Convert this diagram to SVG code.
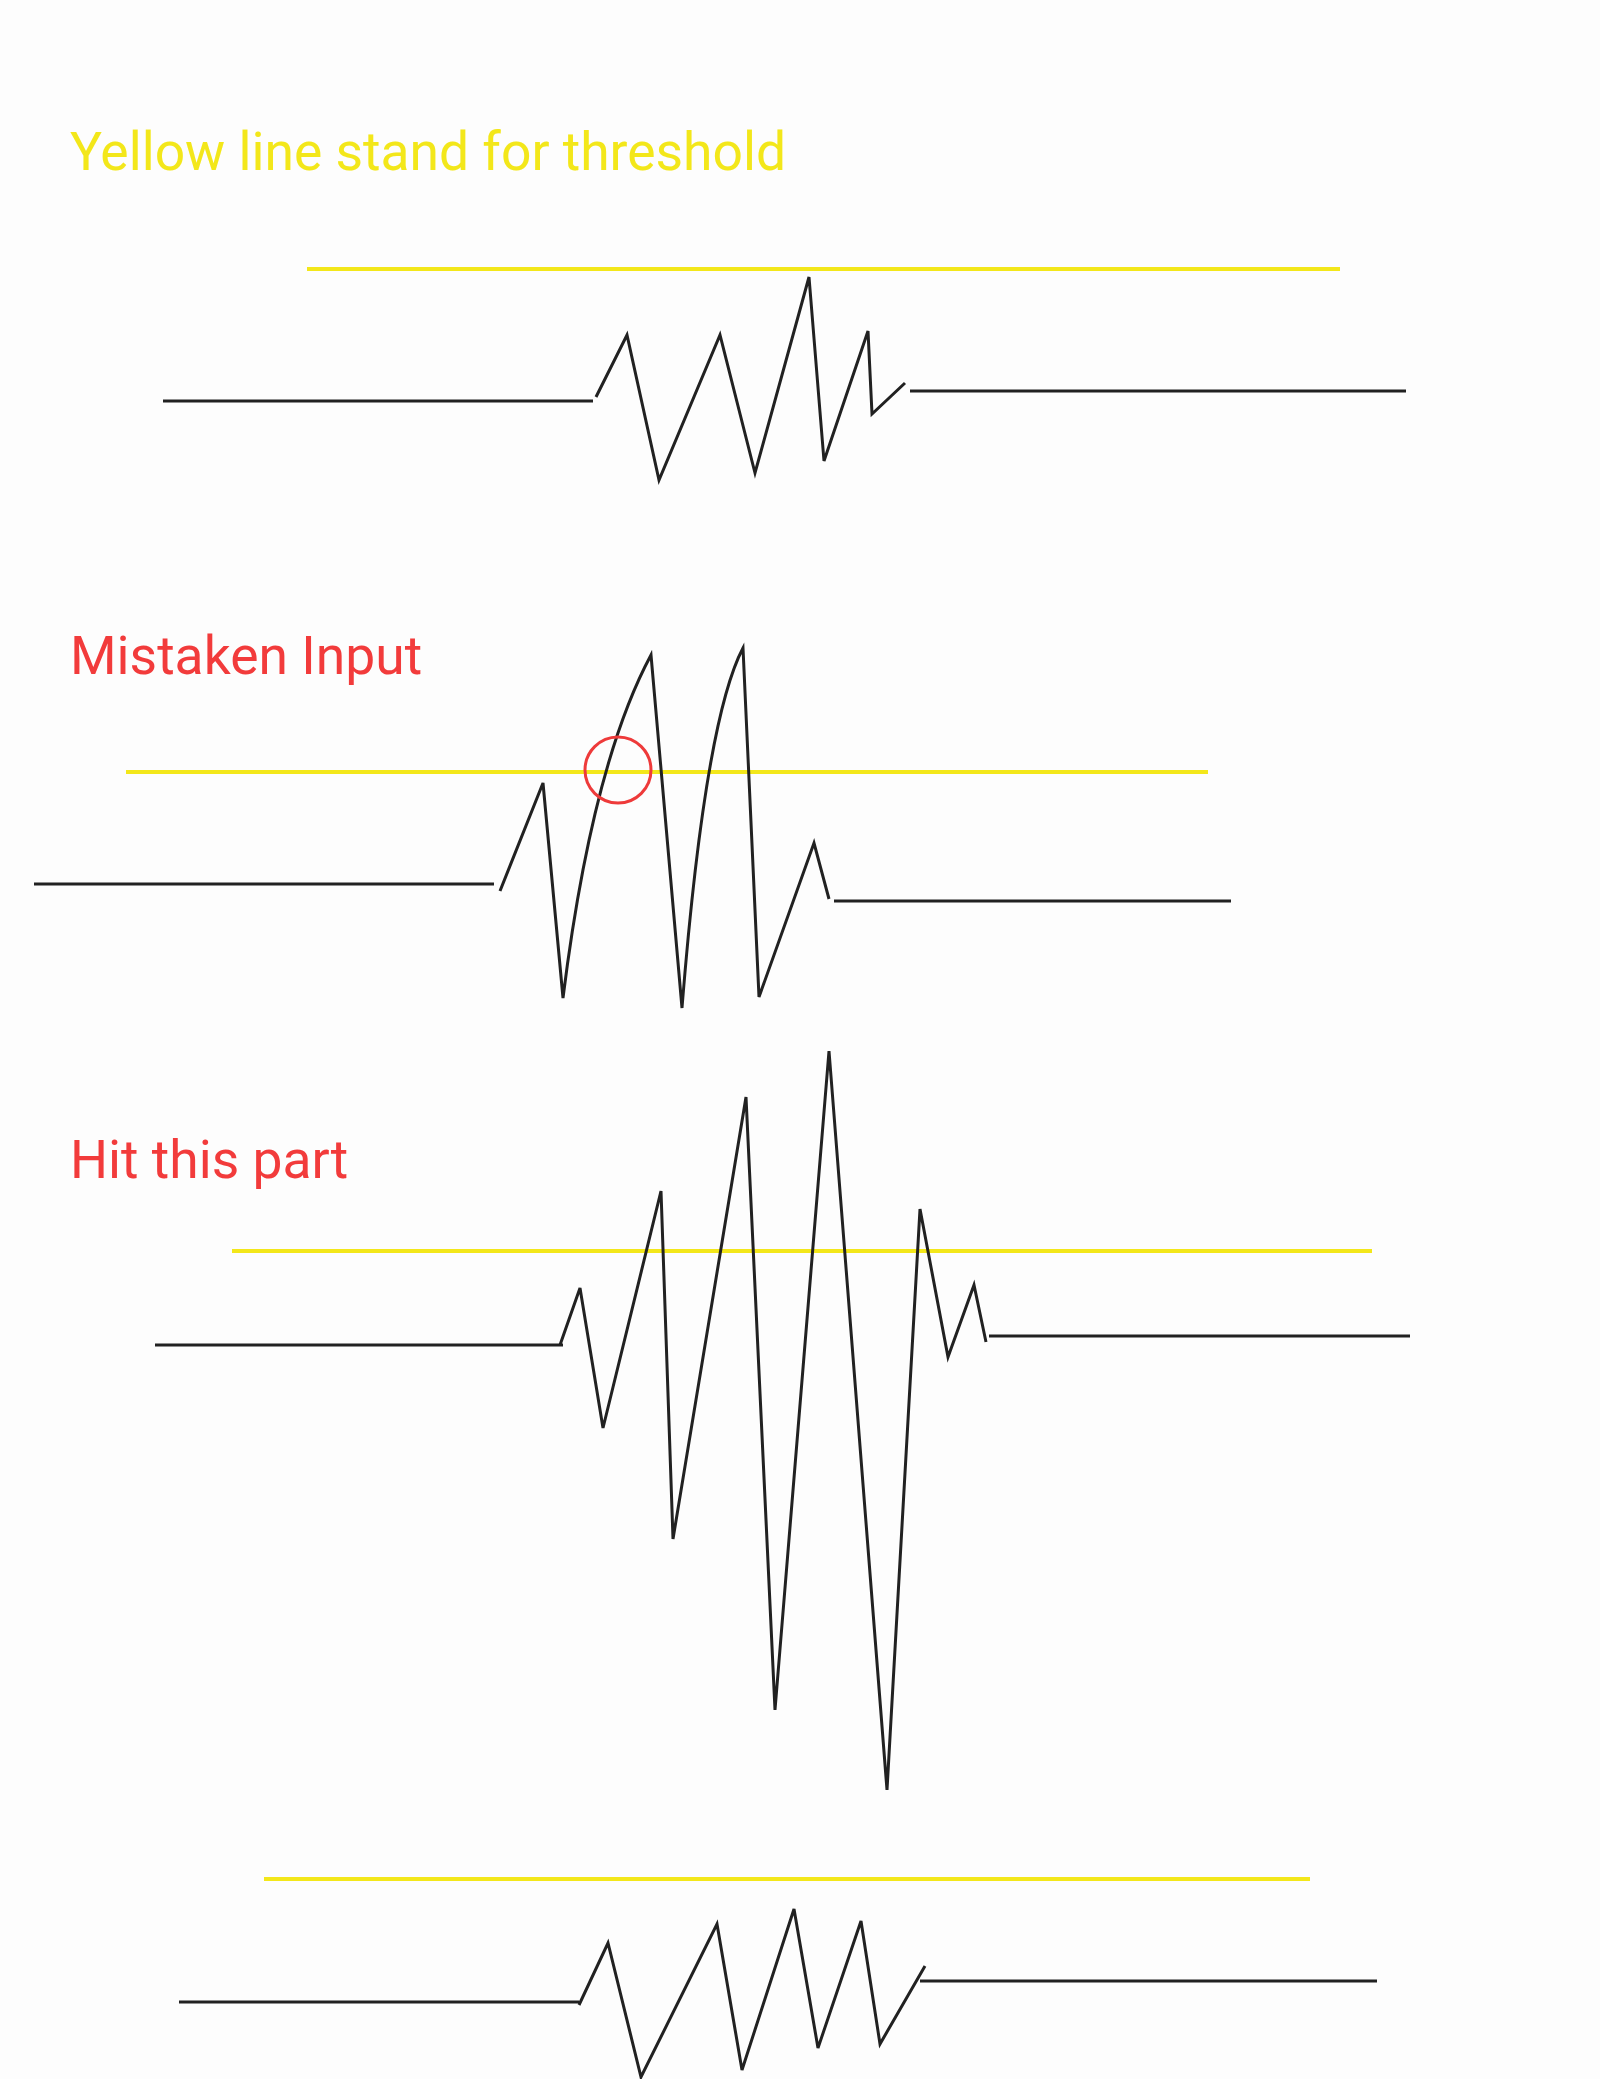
<svg xmlns="http://www.w3.org/2000/svg" width="1600" height="2079" viewBox="0 0 1600 2079">
<style>
.lbl{font-family:Roboto,"Liberation Sans",sans-serif;font-size:53.4px}
.y{fill:#F3E71A}
.r{fill:#F23B3B}
.th{stroke:#F3E71A;stroke-width:4;fill:none}
.sig{stroke:#212121;stroke-width:3;fill:none;stroke-linejoin:miter}
.mark{stroke:#EE3A3A;stroke-width:3;fill:none}
</style>
<rect width="1600" height="2079" fill="#FDFDFD"/>
<text class="lbl y" x="70" y="170">Yellow line stand for threshold</text>
<g id="signal1">
<line class="th" x1="307" y1="269" x2="1340" y2="269"/>
<line class="sig" x1="163" y1="401" x2="593" y2="401"/>
<polyline class="sig" points="596,397 627,335 659,480 720,335 755,473 809,277 824,461 868,331 872,414 905,383"/>
<line class="sig" x1="910" y1="391" x2="1406" y2="391"/>
</g>
<text class="lbl r" x="70" y="674">Mistaken Input</text>
<g id="signal2">
<line class="th" x1="126" y1="772" x2="1208" y2="772"/>
<line class="sig" x1="34" y1="884" x2="494" y2="884"/>
<path class="sig" d="M500,891 L543,783 L563,998 Q592,765 651,655 L682,1008 Q705,720 743,648 L759,997 L814,843 L829,899"/>
<line class="sig" x1="834" y1="901" x2="1231" y2="901"/>
<circle class="mark" cx="618" cy="770" r="33"/>
</g>
<text class="lbl r" x="70" y="1178">Hit this part</text>
<g id="signal3">
<line class="th" x1="232" y1="1251" x2="1372" y2="1251"/>
<line class="sig" x1="155" y1="1345" x2="563" y2="1345"/>
<polyline class="sig" points="560,1345 580,1288 603,1428 661,1191 673,1539 746,1097 775,1710 829,1051 887,1790 920,1209 948,1357 974,1285 986,1342"/>
<line class="sig" x1="989" y1="1336" x2="1410" y2="1336"/>
</g>
<g id="signal4">
<line class="th" x1="264" y1="1879" x2="1310" y2="1879"/>
<line class="sig" x1="179" y1="2002" x2="579" y2="2002"/>
<polyline class="sig" points="579,2005 608,1943 641,2077 717,1924 742,2070 794,1909 818,2048 861,1921 880,2044 925,1966"/>
<line class="sig" x1="920" y1="1981" x2="1377" y2="1981"/>
</g>
</svg>
